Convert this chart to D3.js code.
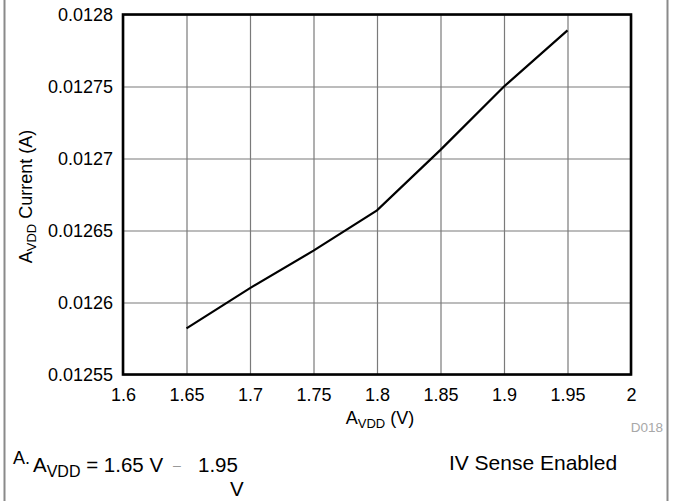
<!DOCTYPE html>
<html>
<head>
<meta charset="utf-8">
<script src="https://cdn.jsdelivr.net/npm/d3@7"></script>
<style>
  body { margin: 0; background: #fff; }
  svg { display: block; font-family: "Liberation Sans", Arial, sans-serif; }
  .grid line { stroke: #7a7a7a; stroke-width: 1.2px; }
  .grid path { stroke: none; }
  .axis path, .axis line { stroke: none; }
  .axis text { font-size: 18px; fill: #000; font-family: "Liberation Sans", Arial, sans-serif; }
</style>
</head>
<body>
<svg></svg>
<script>
// data
var avdd = [1.65, 1.7, 1.75, 1.8, 1.85, 1.9, 1.95];
var current = [0.012582, 0.01261, 0.012636, 0.012664, 0.012706, 0.01275, 0.012789];

var xTicks = [1.6, 1.65, 1.7, 1.75, 1.8, 1.85, 1.9, 1.95, 2];
var yTicks = [0.01255, 0.0126, 0.01265, 0.0127, 0.01275, 0.0128];

var width = 676, height = 501;
var margin = { top: 14.5, right: 45, bottom: 126.5, left: 123 };
var chartWidth = width - margin.left - margin.right,
    chartHeight = height - margin.top - margin.bottom;

var svg = d3.select('svg').attr('width', width).attr('height', height);

// outer frame sides
svg.append('line').attr('x1', 4.5).attr('x2', 4.5).attr('y1', 0).attr('y2', height)
    .attr('stroke', '#8a8a8a').attr('stroke-width', 2);
svg.append('line').attr('x1', 667.5).attr('x2', 667.5).attr('y1', 0).attr('y2', height)
    .attr('stroke', '#8a8a8a').attr('stroke-width', 2);

var x = d3.scaleLinear().domain([1.6, 2]).range([0, chartWidth]);
var y = d3.scaleLinear().domain([0.01255, 0.0128]).range([chartHeight, 0]);

var g = svg.append('g').attr('transform', 'translate(' + margin.left + ',' + margin.top + ')');

// grid
g.append('g').attr('class', 'grid')
    .attr('transform', 'translate(0,' + chartHeight + ')')
    .call(d3.axisBottom(x).tickValues(xTicks).tickSize(-chartHeight).tickFormat('').tickSizeOuter(0));
g.append('g').attr('class', 'grid')
    .call(d3.axisLeft(y).tickValues(yTicks).tickSize(-chartWidth).tickFormat('').tickSizeOuter(0));

// tick labels
g.append('g').attr('class', 'axis')
    .attr('transform', 'translate(0,' + chartHeight + ')')
    .call(d3.axisBottom(x).tickValues(xTicks).tickSize(0).tickPadding(14)
        .tickFormat(function(d) { return String(+d.toFixed(2)); }));
g.append('g').attr('class', 'axis')
    .call(d3.axisLeft(y).tickValues(yTicks).tickSize(0).tickPadding(10)
        .tickFormat(function(d) { return String(+d.toFixed(5)); }));

// data line
var line = d3.line()
    .x(function(d, i) { return x(avdd[i]); })
    .y(function(d) { return y(d); });
g.append('path').datum(current)
    .attr('d', line)
    .attr('fill', 'none')
    .attr('stroke', '#000')
    .attr('stroke-width', 2.2);

// plot border
g.append('rect').attr('x', 0).attr('y', 0)
    .attr('width', chartWidth).attr('height', chartHeight)
    .attr('fill', 'none').attr('stroke', '#000').attr('stroke-width', 2.6);

// x title
var xtitle = svg.append('text')
    .attr('x', margin.left + chartWidth / 2 + 3)
    .attr('y', 424)
    .style('text-anchor', 'middle')
    .style('font-size', '18px');
xtitle.append('tspan').text('A');
xtitle.append('tspan').attr('dy', 4).style('font-size', '13px').text('VDD');
xtitle.append('tspan').attr('dy', -4).text(' (V)');

// y title
var ytitle = svg.append('text')
    .attr('transform', 'translate(32,' + (margin.top + chartHeight / 2 + 2) + ') rotate(-90)')
    .style('text-anchor', 'middle')
    .style('font-size', '18px');
ytitle.append('tspan').text('A');
ytitle.append('tspan').attr('dy', 4).style('font-size', '13px').text('VDD');
ytitle.append('tspan').attr('dy', -4).text(' Current (A)');

// watermark id
svg.append('text')
    .attr('x', 663).attr('y', 432)
    .style('text-anchor', 'end')
    .style('font-size', '13.5px')
    .style('fill', '#a8a8a8')
    .text('D018');

// footnote
svg.append('text').attr('x', 13).attr('y', 464).style('font-size', '18px').text('A.');
var note = svg.append('text').attr('x', 33).attr('y', 472).style('font-size', '20.5px');
note.append('tspan').text('A');
note.append('tspan').attr('dy', 5).style('font-size', '16px').text('VDD');
note.append('tspan').attr('dy', -5).text(' = 1.65 V');
svg.append('text').attr('x', 173).attr('y', 470).style('font-size', '14px').style('fill', '#999').text('\u2013');
svg.append('text').attr('x', 198).attr('y', 472).style('font-size', '20.5px').text('1.95');
svg.append('text').attr('x', 230).attr('y', 496).style('font-size', '20.5px').text('V');

svg.append('text')
    .attr('x', 533).attr('y', 470)
    .style('text-anchor', 'middle')
    .style('font-size', '21px')
    .text('IV Sense Enabled');
</script>
</body>
</html>
